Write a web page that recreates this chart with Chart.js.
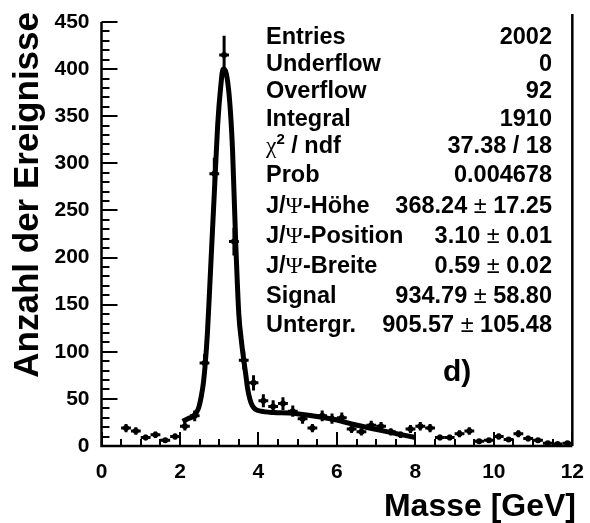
<!DOCTYPE html>
<html><head><meta charset="utf-8">
<script src="https://cdn.jsdelivr.net/npm/chart.js@4"></script>
<style>html,body{margin:0;padding:0;background:#fff}canvas{display:block}</style>
</head><body>
<canvas id="c" width="590" height="523"></canvas>
<script>
// ---- data ----
const binCenters = [0.625,0.875,1.125,1.375,1.625,1.875,2.125,2.375,2.625,2.875,3.125,3.375,3.625,3.875,
  4.125,4.375,4.625,4.875,5.125,5.375,5.625,5.875,6.125,6.375,6.625,6.875,7.125,7.375,7.625,7.875,
  8.125,8.375,8.625,8.875,9.125,9.375,9.625,9.875,10.125,10.375,10.625,10.875,11.125,11.375,11.625,11.875];
const counts = [19,16,9,12,6,10,21,32,88,289,415,217,91,67,
  48,42,45,37,29,19,32,29,30,18,15,22,21,15,12,18,
  21,19,9,9,13,16,5,6,10,7,13,8,6,3,2,3];
const binWidth = 0.25;
const fitX = [2.07,2.20,2.32,2.41,2.48,2.54,2.60,2.64,2.70,2.76,2.83,2.90,2.96,3.04,3.10,3.16,3.24,3.30,3.34,3.42,3.50,3.57,3.63,3.68,3.72,3.78,3.84,3.92,4.06,4.39,4.77,5.03,5.62,6.00,6.46,7.30,8.00];
const fitY = [26,29,31,35,41,52,68,85,120,170,230,289,340,382,400,398,378,346,314,217,140,110,90,75,62,50,43,39,37,35.5,35,34,30.5,27.5,22.5,15,9];
const xTicks = [0,2,4,6,8,10,12];
const yTicks = [0,50,100,150,200,250,300,350,400,450];
const statLabels = ['Entries','Underflow','Overflow','Integral','χ² / ndf','Prob','J/Ψ-Höhe','J/Ψ-Position','J/Ψ-Breite','Signal','Untergr.'];
const statValues = ['2002','0','92','1910','37.38 / 18','0.004678','368.24 ± 17.25','3.10 ± 0.01','0.59 ± 0.02','934.79 ± 58.80','905.57 ± 105.48'];
const xTitle = 'Masse [GeV]';
const yTitle = 'Anzahl der Ereignisse';
const panelTag = 'd)';

const points = binCenters.map((x,i)=>({x:x,y:counts[i]}));
const fitPts = fitX.map((x,i)=>({x:x,y:fitY[i]}));

const SANS = '"Liberation Sans", Arial, sans-serif';
const SERIF = '"Liberation Serif", "Times New Roman", serif';

function drawRich(ctx, text, x, y, align, size){
  const runs = [];
  for (const ch of text){
    let f, dy = 0, t = ch;
    if (ch === 'Ψ' || ch === 'χ') f = size + 'px ' + SERIF;
    else if (ch === '²'){ f = 'bold ' + Math.round(size*0.62) + 'px ' + SANS; t = '2'; dy = -size*0.38; }
    else if (ch === '±') f = size + 'px ' + SANS;
    else f = 'bold ' + size + 'px ' + SANS;
    const last = runs[runs.length-1];
    if (last && last.f === f && last.dy === dy) last.t += t; else runs.push({t:t,f:f,dy:dy});
  }
  let total = 0;
  runs.forEach(r=>{ ctx.font = r.f; r.w = ctx.measureText(r.t).width; total += r.w; });
  let cx = align === 'right' ? x - total : x;
  ctx.textAlign = 'left'; ctx.textBaseline = 'alphabetic';
  runs.forEach(r=>{ ctx.font = r.f; ctx.fillText(r.t, cx, y + r.dy); cx += r.w; });
}

const decor = {
  id: 'decor',
  beforeDatasetsDraw(chart){
    const ctx = chart.ctx, xs = chart.scales.x, ys = chart.scales.y;
    ctx.save();
    ctx.strokeStyle = '#000'; ctx.lineWidth = 3; ctx.lineCap = 'butt';
    points.forEach(p=>{
      const e = Math.sqrt(p.y);
      const px = xs.getPixelForValue(p.x), py = ys.getPixelForValue(p.y);
      ctx.beginPath();
      ctx.moveTo(xs.getPixelForValue(p.x - binWidth/2), py);
      ctx.lineTo(xs.getPixelForValue(p.x + binWidth/2), py);
      ctx.moveTo(px, ys.getPixelForValue(p.y - e));
      ctx.lineTo(px, ys.getPixelForValue(p.y + e));
      ctx.stroke();
    });
    ctx.restore();
  },
  afterDraw(chart){
    const ctx = chart.ctx, xs = chart.scales.x, ys = chart.scales.y, a = chart.chartArea;
    ctx.save();
    ctx.strokeStyle = '#000'; ctx.fillStyle = '#000';
    // frame
    ctx.lineWidth = 2.5;
    ctx.beginPath();
    ctx.moveTo(a.left, a.top); ctx.lineTo(a.left, a.bottom); ctx.lineTo(a.right, a.bottom);
    ctx.moveTo(a.right, a.bottom); ctx.lineTo(a.right, 14);
    ctx.stroke();
    // inward ticks
    ctx.lineWidth = 2;
    for (let i = 0; i <= 45; i++){
      const py = Math.round(ys.getPixelForValue(i * 10));
      const len = (i % 5 === 0) ? 16 : 8;
      ctx.beginPath(); ctx.moveTo(a.left, py); ctx.lineTo(a.left + len, py); ctx.stroke();
    }
    for (let i = 0; i <= 24; i++){
      const px = Math.round(xs.getPixelForValue(i * 0.5));
      const len = (i % 4 === 0) ? 14 : 7;
      ctx.beginPath(); ctx.moveTo(px, a.bottom); ctx.lineTo(px, a.bottom - len); ctx.stroke();
    }
    // stats
    const base = [44, 70.7, 98.3, 126, 153.3, 181.7, 213.3, 243.3, 272.7, 303.3, 331.7];
    statLabels.forEach((s,i)=>{
      drawRich(ctx, s, 266, base[i], 'left', 23.5);
      drawRich(ctx, statValues[i], 552, base[i], 'right', 23.5);
    });
    ctx.font = 'bold 30px ' + SANS; ctx.textAlign = 'left'; ctx.textBaseline = 'alphabetic';
    ctx.fillText(panelTag, 443, 381);
    // titles
    ctx.font = 'bold 32px ' + SANS; ctx.textAlign = 'right';
    ctx.fillText(xTitle, 576, 516);
    ctx.save();
    ctx.translate(38, 0); ctx.rotate(-Math.PI/2);
    ctx.font = 'bold 35px ' + SANS; ctx.textAlign = 'right';
    ctx.fillText(yTitle, -12, 0);
    ctx.restore();
    ctx.restore();
  }
};

new Chart(document.getElementById('c'), {
  type: 'scatter',
  data: { datasets: [
    { data: points, pointRadius: 3, pointBackgroundColor: '#000', pointBorderWidth: 0, showLine: false },
    { data: fitPts, showLine: true, pointRadius: 0, borderColor: '#000', borderWidth: 5, cubicInterpolationMode: 'monotone', fill: false }
  ]},
  options: {
    responsive: false, animation: false,
    layout: { padding: { top: 22, right: 14, left: 0, bottom: 0 } },
    plugins: { legend: { display: false }, tooltip: { enabled: false } },
    scales: {
      x: { type: 'linear', min: 0, max: 12,
        afterBuildTicks(s){ s.ticks = xTicks.map(v=>({value:v})); },
        afterFit(s){ s.height = 77; },
        grid: { display: false }, border: { display: false },
        ticks: { color: '#000', padding: 6, font: { family: SANS, size: 21, weight: 'bold' }, maxRotation: 0 } },
      y: { type: 'linear', min: 0, max: 450,
        afterBuildTicks(s){ s.ticks = yTicks.map(v=>({value:v})); },
        afterFit(s){ s.width = 101.5; },
        grid: { display: false }, border: { display: false },
        ticks: { color: '#000', padding: 4, font: { family: SANS, size: 21, weight: 'bold' } } }
    }
  },
  plugins: [decor]
});
</script>
</body></html>
